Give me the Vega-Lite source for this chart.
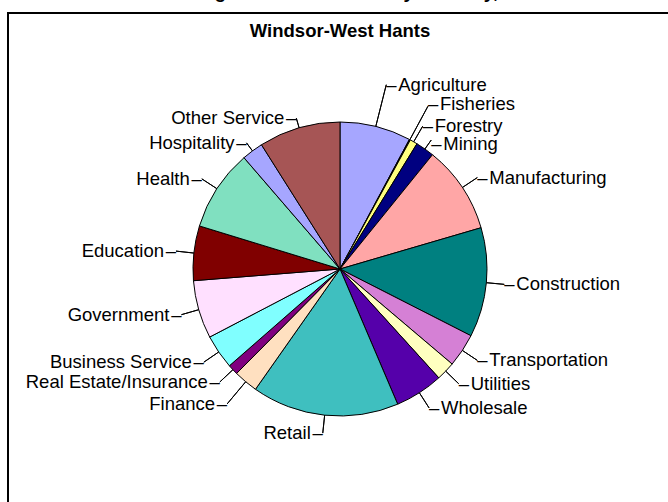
{
  "$schema": "https://vega.github.io/schema/vega-lite/v6.json",
  "width": 664,
  "height": 512,
  "autosize": {"type": "none"},
  "padding": {"left": 8, "top": 13, "right": 0, "bottom": 0},
  "background": "white",
  "title": {
    "text": "Percentage of Labour Force by Industry, 2006",
    "subtitle": "Windsor-West Hants",
    "frame": "group",
    "anchor": "middle",
    "font": "Liberation Sans",
    "fontSize": 19,
    "fontWeight": "bold",
    "color": "#000",
    "subtitleFont": "Liberation Sans",
    "subtitleFontSize": 18.5,
    "subtitleFontWeight": "bold",
    "subtitleColor": "#000",
    "subtitlePadding": 20,
    "offset": -28
  },
  "data": {
    "values": [
      {"industry": "Agriculture", "share": 7.83, "rank": 1},
      {"industry": "Fisheries", "share": 0.11, "rank": 2},
      {"industry": "Forestry", "share": 0.83, "rank": 3},
      {"industry": "Mining", "share": 2.06, "rank": 4},
      {"industry": "Manufacturing", "share": 9.64, "rank": 5},
      {"industry": "Construction", "share": 12.03, "rank": 6},
      {"industry": "Transportation", "share": 3.69, "rank": 7},
      {"industry": "Utilities", "share": 2.08, "rank": 8},
      {"industry": "Wholesale", "share": 5.31, "rank": 9},
      {"industry": "Retail", "share": 16.17, "rank": 10},
      {"industry": "Finance", "share": 2.67, "rank": 11},
      {"industry": "Real Estate/Insurance", "share": 1.14, "rank": 12},
      {"industry": "Business Service", "share": 3.78, "rank": 13},
      {"industry": "Government", "share": 6.39, "rank": 14},
      {"industry": "Education", "share": 6.0, "rank": 15},
      {"industry": "Health", "share": 8.94, "rank": 16},
      {"industry": "Hospitality", "share": 2.36, "rank": 17},
      {"industry": "Other Service", "share": 8.97, "rank": 18}
    ]
  },
  "layer": [
    {
      "data": {"values": [{"frame": 1}]},
      "mark": {"type": "rect", "fill": null, "filled": false, "stroke": "#000", "strokeWidth": 2, "x2Offset": 20, "y2Offset": 20},
      "encoding": {
        "x": {"value": 0},
        "x2": {"value": "width"},
        "y": {"value": 0},
        "y2": {"value": "height"}
      }
    },
    {
      "encoding": {
        "theta": {"field": "share", "type": "quantitative", "stack": true},
        "order": {"field": "rank", "type": "quantitative"},
        "detail": {"field": "industry", "type": "nominal"}
      },
      "layer": [
        {
          "mark": {"type": "arc", "outerRadius": 147, "stroke": "#000", "strokeWidth": 1},
          "encoding": {
            "color": {
              "field": "industry",
              "type": "nominal",
              "legend": null,
              "scale": {
                "domain": ["Agriculture", "Fisheries", "Forestry", "Mining", "Manufacturing", "Construction", "Transportation", "Utilities", "Wholesale", "Retail", "Finance", "Real Estate/Insurance", "Business Service", "Government", "Education", "Health", "Hospitality", "Other Service"],
                "range": ["#A6A6FF", "#000000", "#FFFF80", "#000080", "#FFA6A6", "#008080", "#D580D5", "#FFFFC0", "#5500AA", "#3FBFBF", "#FFE0C0", "#800080", "#80FFFF", "#FFE0FF", "#800000", "#80E0C0", "#A6A6FF", "#A65555"]
              }
            }
          }
        },
        {
          "mark": {"type": "arc", "innerRadius": 147, "outerRadius": 165, "padAngle": 1.2, "stroke": "#000", "strokeWidth": 1, "fill": "#000"},
          "encoding": {"opacity": {"condition": {"test": "indexof(['Manufacturing','Construction','Transportation','Utilities','Wholesale','Forestry','Retail','Real Estate/Insurance','Business Service','Government','Education','Health'], datum.industry) >= 0", "value": 1}, "value": 0}}
        },
        {
          "mark": {"type": "arc", "innerRadius": 147, "outerRadius": 190, "padAngle": 1.2, "stroke": "#000", "strokeWidth": 1, "fill": "#000"},
          "encoding": {"opacity": {"condition": {"test": "datum.industry === 'Agriculture'", "value": 1}, "value": 0}}
        },
        {
          "mark": {"type": "arc", "innerRadius": 147, "outerRadius": 185, "padAngle": 1.2, "stroke": "#000", "strokeWidth": 1, "fill": "#000"},
          "encoding": {"opacity": {"condition": {"test": "datum.industry === 'Fisheries'", "value": 1}, "value": 0}}
        },
        {
          "mark": {"type": "arc", "innerRadius": 147, "outerRadius": 158, "padAngle": 1.2, "stroke": "#000", "strokeWidth": 1, "fill": "#000"},
          "encoding": {"opacity": {"condition": {"test": "datum.industry === 'Mining'", "value": 1}, "value": 0}}
        },
        {
          "mark": {"type": "arc", "innerRadius": 147, "outerRadius": 176, "padAngle": 1.2, "stroke": "#000", "strokeWidth": 1, "fill": "#000"},
          "encoding": {"opacity": {"condition": {"test": "datum.industry === 'Finance'", "value": 1}, "value": 0}}
        },
        {
          "mark": {"type": "arc", "innerRadius": 147, "outerRadius": 157, "padAngle": 1.2, "stroke": "#000", "strokeWidth": 1, "fill": "#000"},
          "encoding": {"opacity": {"condition": {"test": "indexof(['Other Service','Hospitality'], datum.industry) >= 0", "value": 1}, "value": 0}}
        },
        {
          "mark": {"type": "text", "radius": 165, "align": "left", "baseline": "middle"},
          "encoding": {"text": {"condition": {"test": "indexof(['Manufacturing','Construction','Transportation','Utilities','Wholesale','Forestry'], datum.industry) >= 0", "value": "–"}, "value": ""}}
        },
        {
          "mark": {"type": "text", "radius": 165, "align": "left", "baseline": "middle", "dx": 12},
          "encoding": {"text": {"condition": {"test": "indexof(['Manufacturing','Construction','Transportation','Utilities','Wholesale','Forestry'], datum.industry) >= 0", "field": "industry", "type": "nominal"}, "value": ""}}
        },
        {
          "mark": {"type": "text", "radius": 190, "align": "left", "baseline": "middle"},
          "encoding": {"text": {"condition": {"test": "datum.industry === 'Agriculture'", "value": "–"}, "value": ""}}
        },
        {
          "mark": {"type": "text", "radius": 190, "align": "left", "baseline": "middle", "dx": 12},
          "encoding": {"text": {"condition": {"test": "datum.industry === 'Agriculture'", "field": "industry", "type": "nominal"}, "value": ""}}
        },
        {
          "mark": {"type": "text", "radius": 185, "align": "left", "baseline": "middle", "dy": -2},
          "encoding": {"text": {"condition": {"test": "datum.industry === 'Fisheries'", "value": "–"}, "value": ""}}
        },
        {
          "mark": {"type": "text", "radius": 185, "align": "left", "baseline": "middle", "dx": 12, "dy": -2},
          "encoding": {"text": {"condition": {"test": "datum.industry === 'Fisheries'", "field": "industry", "type": "nominal"}, "value": ""}}
        },
        {
          "mark": {"type": "text", "radius": 158, "align": "left", "baseline": "middle", "dy": 4},
          "encoding": {"text": {"condition": {"test": "datum.industry === 'Mining'", "value": "–"}, "value": ""}}
        },
        {
          "mark": {"type": "text", "radius": 158, "align": "left", "baseline": "middle", "dy": 4, "dx": 12},
          "encoding": {"text": {"condition": {"test": "datum.industry === 'Mining'", "field": "industry", "type": "nominal"}, "value": ""}}
        },
        {
          "mark": {"type": "text", "radius": 165, "align": "right", "baseline": "middle"},
          "encoding": {"text": {"condition": {"test": "indexof(['Retail','Real Estate/Insurance','Business Service','Government','Education','Health'], datum.industry) >= 0", "value": "–"}, "value": ""}}
        },
        {
          "mark": {"type": "text", "radius": 165, "align": "right", "baseline": "middle", "dx": -12},
          "encoding": {"text": {"condition": {"test": "indexof(['Retail','Real Estate/Insurance','Business Service','Government','Education','Health'], datum.industry) >= 0", "field": "industry", "type": "nominal"}, "value": ""}}
        },
        {
          "mark": {"type": "text", "radius": 176, "align": "right", "baseline": "middle"},
          "encoding": {"text": {"condition": {"test": "datum.industry === 'Finance'", "value": "–"}, "value": ""}}
        },
        {
          "mark": {"type": "text", "radius": 176, "align": "right", "baseline": "middle", "dx": -12},
          "encoding": {"text": {"condition": {"test": "datum.industry === 'Finance'", "field": "industry", "type": "nominal"}, "value": ""}}
        },
        {
          "mark": {"type": "text", "radius": 157, "align": "right", "baseline": "middle"},
          "encoding": {"text": {"condition": {"test": "indexof(['Other Service','Hospitality'], datum.industry) >= 0", "value": "–"}, "value": ""}}
        },
        {
          "mark": {"type": "text", "radius": 157, "align": "right", "baseline": "middle", "dx": -12},
          "encoding": {"text": {"condition": {"test": "indexof(['Other Service','Hospitality'], datum.industry) >= 0", "field": "industry", "type": "nominal"}, "value": ""}}
        }
      ]
    }
  ],
  "config": {
    "view": {"stroke": "#000", "strokeWidth": 2},
    "text": {"font": "Liberation Sans", "fontSize": 18.5, "fill": "#000"}
  }
}
